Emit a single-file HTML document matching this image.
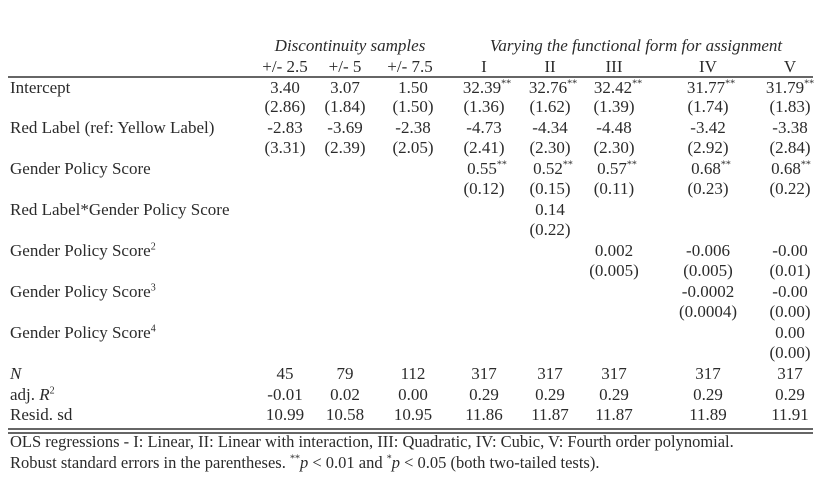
<!DOCTYPE html>
<html><head><meta charset="utf-8"><style>
body{margin:0;width:820px;height:479px;background:#fff;position:relative;overflow:hidden;font-family:"Liberation Serif",serif;font-size:17px;color:#2b2b2b}
div{position:absolute;white-space:nowrap;line-height:18px}
.c{transform:translateX(-50%)}
.l{left:10px}
sup{font-size:10px;line-height:0}
.hr{background:#666;left:8px;width:805px;height:2px}
</style></head><body>
<div class="c" style="left:350px;top:37px;font-style:italic">Discontinuity samples</div>
<div class="c" style="left:636px;top:37px;font-style:italic">Varying the functional form for assignment</div>
<div class="c" style="left:285px;top:58px">+/- 2.5</div>
<div class="c" style="left:345px;top:58px">+/- 5</div>
<div class="c" style="left:410px;top:58px">+/- 7.5</div>
<div class="c" style="left:484px;top:58px">I</div>
<div class="c" style="left:550px;top:58px">II</div>
<div class="c" style="left:614px;top:58px">III</div>
<div class="c" style="left:708px;top:58px">IV</div>
<div class="c" style="left:790px;top:58px">V</div>
<div class="hr" style="top:76px"></div>

<div class="l" style="top:79px">Intercept</div>
<div class="c" style="left:285px;top:79px">3.40</div><div class="c" style="left:345px;top:79px">3.07</div><div class="c" style="left:413px;top:79px">1.50</div>
<div class="c" style="left:487px;top:79px">32.39<sup>**</sup></div><div class="c" style="left:553px;top:79px">32.76<sup>**</sup></div><div class="c" style="left:618px;top:79px">32.42<sup>**</sup></div><div class="c" style="left:711px;top:79px">31.77<sup>**</sup></div><div class="c" style="left:790px;top:79px">31.79<sup>**</sup></div>
<div class="c" style="left:285px;top:98px">(2.86)</div><div class="c" style="left:345px;top:98px">(1.84)</div><div class="c" style="left:413px;top:98px">(1.50)</div><div class="c" style="left:484px;top:98px">(1.36)</div><div class="c" style="left:550px;top:98px">(1.62)</div><div class="c" style="left:614px;top:98px">(1.39)</div><div class="c" style="left:708px;top:98px">(1.74)</div><div class="c" style="left:790px;top:98px">(1.83)</div>

<div class="l" style="top:119px">Red Label (ref: Yellow Label)</div>
<div class="c" style="left:285px;top:119px">-2.83</div><div class="c" style="left:345px;top:119px">-3.69</div><div class="c" style="left:413px;top:119px">-2.38</div><div class="c" style="left:484px;top:119px">-4.73</div><div class="c" style="left:550px;top:119px">-4.34</div><div class="c" style="left:614px;top:119px">-4.48</div><div class="c" style="left:708px;top:119px">-3.42</div><div class="c" style="left:790px;top:119px">-3.38</div>
<div class="c" style="left:285px;top:139px">(3.31)</div><div class="c" style="left:345px;top:139px">(2.39)</div><div class="c" style="left:413px;top:139px">(2.05)</div><div class="c" style="left:484px;top:139px">(2.41)</div><div class="c" style="left:550px;top:139px">(2.30)</div><div class="c" style="left:614px;top:139px">(2.30)</div><div class="c" style="left:708px;top:139px">(2.92)</div><div class="c" style="left:790px;top:139px">(2.84)</div>

<div class="l" style="top:160px">Gender Policy Score</div>
<div class="c" style="left:487px;top:160px">0.55<sup>**</sup></div><div class="c" style="left:553px;top:160px">0.52<sup>**</sup></div><div class="c" style="left:617px;top:160px">0.57<sup>**</sup></div><div class="c" style="left:711px;top:160px">0.68<sup>**</sup></div><div class="c" style="left:791px;top:160px">0.68<sup>**</sup></div>
<div class="c" style="left:484px;top:180px">(0.12)</div><div class="c" style="left:550px;top:180px">(0.15)</div><div class="c" style="left:614px;top:180px">(0.11)</div><div class="c" style="left:708px;top:180px">(0.23)</div><div class="c" style="left:790px;top:180px">(0.22)</div>

<div class="l" style="top:201px">Red Label*Gender Policy Score</div>
<div class="c" style="left:550px;top:201px">0.14</div>
<div class="c" style="left:550px;top:221px">(0.22)</div>

<div class="l" style="top:242px">Gender Policy Score<sup>2</sup></div>
<div class="c" style="left:614px;top:242px">0.002</div><div class="c" style="left:708px;top:242px">-0.006</div><div class="c" style="left:790px;top:242px">-0.00</div>
<div class="c" style="left:614px;top:262px">(0.005)</div><div class="c" style="left:708px;top:262px">(0.005)</div><div class="c" style="left:790px;top:262px">(0.01)</div>

<div class="l" style="top:283px">Gender Policy Score<sup>3</sup></div>
<div class="c" style="left:708px;top:283px">-0.0002</div><div class="c" style="left:790px;top:283px">-0.00</div>
<div class="c" style="left:708px;top:303px">(0.0004)</div><div class="c" style="left:790px;top:303px">(0.00)</div>

<div class="l" style="top:324px">Gender Policy Score<sup>4</sup></div>
<div class="c" style="left:790px;top:324px">0.00</div>
<div class="c" style="left:790px;top:344px">(0.00)</div>

<div class="l" style="top:365px;font-style:italic">N</div>
<div class="c" style="left:285px;top:365px">45</div><div class="c" style="left:345px;top:365px">79</div><div class="c" style="left:413px;top:365px">112</div><div class="c" style="left:484px;top:365px">317</div><div class="c" style="left:550px;top:365px">317</div><div class="c" style="left:614px;top:365px">317</div><div class="c" style="left:708px;top:365px">317</div><div class="c" style="left:790px;top:365px">317</div>
<div class="l" style="top:386px">adj. <i>R</i><sup>2</sup></div>
<div class="c" style="left:285px;top:386px">-0.01</div><div class="c" style="left:345px;top:386px">0.02</div><div class="c" style="left:413px;top:386px">0.00</div><div class="c" style="left:484px;top:386px">0.29</div><div class="c" style="left:550px;top:386px">0.29</div><div class="c" style="left:614px;top:386px">0.29</div><div class="c" style="left:708px;top:386px">0.29</div><div class="c" style="left:790px;top:386px">0.29</div>
<div class="l" style="top:406px">Resid. sd</div>
<div class="c" style="left:285px;top:406px">10.99</div><div class="c" style="left:345px;top:406px">10.58</div><div class="c" style="left:413px;top:406px">10.95</div><div class="c" style="left:484px;top:406px">11.86</div><div class="c" style="left:550px;top:406px">11.87</div><div class="c" style="left:614px;top:406px">11.87</div><div class="c" style="left:708px;top:406px">11.89</div><div class="c" style="left:790px;top:406px">11.91</div>

<div class="hr" style="top:428px"></div>
<div class="hr" style="top:432px"></div>
<div class="l" style="top:433px;font-size:16.5px">OLS regressions - I: Linear, II: Linear with interaction, III: Quadratic, IV: Cubic, V: Fourth order polynomial.</div>
<div class="l" style="top:454px;font-size:16.5px">Robust standard errors in the parentheses. <sup>**</sup><i>p</i> &lt; 0.01 and <sup>*</sup><i>p</i> &lt; 0.05 (both two-tailed tests).</div>
</body></html>
